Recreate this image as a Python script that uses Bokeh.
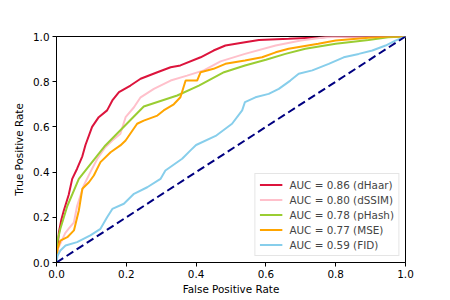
from bokeh.plotting import figure
from bokeh.models import Range1d, FixedTicker, Legend, LegendItem
from bokeh.embed import file_html
from bokeh.resources import INLINE

# ---- data ----
dhaar_fpr = [0, 0.003, 0.007, 0.014, 0.021, 0.035, 0.045, 0.059, 0.074, 0.083, 0.102, 0.121, 0.145, 0.16, 0.179, 0.212, 0.241, 0.289, 0.327, 0.355, 0.413, 0.45, 0.484, 0.54, 0.58, 0.665, 0.75, 0.80, 1.0]
dhaar_tpr = [0, 0.07, 0.134, 0.19, 0.23, 0.30, 0.37, 0.415, 0.47, 0.52, 0.60, 0.643, 0.673, 0.717, 0.754, 0.783, 0.813, 0.842, 0.864, 0.872, 0.908, 0.938, 0.96, 0.975, 0.985, 0.99, 0.996, 1.0, 1.0]

dssim_fpr = [0, 0.004, 0.016, 0.025, 0.035, 0.05, 0.059, 0.078, 0.097, 0.117, 0.14, 0.16, 0.183, 0.198, 0.222, 0.241, 0.279, 0.327, 0.374, 0.422, 0.47, 0.54, 0.628, 0.70, 0.77, 0.85, 1.0]
dssim_tpr = [0, 0.06, 0.10, 0.13, 0.15, 0.178, 0.25, 0.34, 0.40, 0.459, 0.51, 0.54, 0.57, 0.643, 0.687, 0.731, 0.768, 0.805, 0.827, 0.85, 0.89, 0.923, 0.96, 0.982, 0.997, 1.0, 1.0]

phash_fpr = [0, 0.002, 0.011, 0.031, 0.064, 0.14, 0.25, 0.346, 0.408, 0.48, 0.54, 0.60, 0.656, 0.713, 0.80, 0.894, 0.95, 1.0]
phash_tpr = [0, 0.09, 0.149, 0.25, 0.37, 0.518, 0.69, 0.739, 0.783, 0.842, 0.872, 0.897, 0.923, 0.946, 0.968, 0.985, 0.997, 1.0]

mse_fpr = [0, 0.003, 0.011, 0.031, 0.05, 0.064, 0.074, 0.093, 0.107, 0.126, 0.155, 0.183, 0.198, 0.231, 0.25, 0.289, 0.307, 0.336, 0.355, 0.37, 0.403, 0.413, 0.45, 0.484, 0.54, 0.589, 0.628, 0.665, 0.75, 0.80, 0.894, 0.95, 1.0]
mse_tpr = [0, 0.06, 0.097, 0.112, 0.142, 0.23, 0.326, 0.355, 0.385, 0.444, 0.488, 0.518, 0.54, 0.614, 0.628, 0.65, 0.673, 0.70, 0.731, 0.805, 0.805, 0.842, 0.857, 0.879, 0.894, 0.908, 0.93, 0.946, 0.968, 0.982, 0.994, 1.0, 1.0]

fid_fpr = [0, 0.003, 0.011, 0.026, 0.059, 0.097, 0.126, 0.145, 0.16, 0.193, 0.222, 0.26, 0.298, 0.312, 0.36, 0.384, 0.40, 0.456, 0.503, 0.532, 0.54, 0.57, 0.608, 0.637, 0.67, 0.694, 0.733, 0.78, 0.823, 0.866, 0.905, 0.943, 0.971, 1.0]
fid_tpr = [0, 0.03, 0.053, 0.075, 0.09, 0.12, 0.149, 0.20, 0.237, 0.26, 0.304, 0.333, 0.37, 0.407, 0.459, 0.496, 0.52, 0.56, 0.614, 0.673, 0.71, 0.731, 0.746, 0.768, 0.805, 0.835, 0.85, 0.879, 0.908, 0.923, 0.938, 0.96, 0.982, 1.0]

diag = [0, 1]

labels = ["AUC = 0.86 (dHaar)", "AUC = 0.80 (dSSIM)", "AUC = 0.78 (pHash)",
          "AUC = 0.77 (MSE)", "AUC = 0.59 (FID)"]
colors = ["crimson", "pink", "yellowgreen", "orange", "skyblue"]
ticks = [0.0, 0.2, 0.4, 0.6, 0.8, 1.0]
tick_labels = ["0.0", "0.2", "0.4", "0.6", "0.8", "1.0"]

FONT = "DejaVu Sans"
FS = "10.4px"

p = figure(width=450, height=300, output_backend="svg", toolbar_location=None,
           x_range=Range1d(0, 1), y_range=Range1d(0, 1),
           min_border_left=56, min_border_right=45, min_border_top=36,
           min_border_bottom=38)
p.grid.visible = False
p.outline_line_color = "black"
p.outline_line_width = 1
p.background_fill_color = "white"
p.border_fill_color = "white"

series = [(dhaar_fpr, dhaar_tpr), (dssim_fpr, dssim_tpr), (phash_fpr, phash_tpr),
          (mse_fpr, mse_tpr), (fid_fpr, fid_tpr)]
items = []
for (xs, ys), c, lab in zip(series, colors, labels):
    r = p.line(xs, ys, line_color=c, line_width=2)
    items.append(LegendItem(label=lab, renderers=[r]))

p.line(diag, diag, line_color="navy", line_width=2, line_dash="8 4")

for ax in (p.xaxis[0], p.yaxis[0]):
    ax.ticker = FixedTicker(ticks=ticks)
    ax.major_label_overrides = {t: s for t, s in zip(ticks, tick_labels)}
    ax.major_label_text_font = FONT
    ax.major_label_text_font_size = FS
    ax.major_label_text_color = "black"
    ax.axis_label_text_font = FONT
    ax.axis_label_text_font_size = FS
    ax.axis_label_text_font_style = "normal"
    ax.axis_label_text_color = "black"
    ax.axis_line_color = "black"
    ax.major_tick_line_color = "black"
    ax.major_tick_out = 4
    ax.major_tick_in = 0
    ax.minor_tick_line_color = None
    ax.major_label_standoff = 3

p.xaxis.axis_label = "False Positive Rate"
p.yaxis.axis_label = "True Positive Rate"
p.xaxis.axis_label_standoff = 2
p.yaxis.axis_label_standoff = 5

legend = Legend(items=items, location="bottom_right")
legend.margin = 6
legend.padding = 4
legend.spacing = 2
legend.glyph_width = 23
legend.glyph_height = 13
legend.label_height = 13
legend.label_standoff = 7
legend.label_text_font = FONT
legend.label_text_font_size = FS
legend.border_line_color = "#cccccc"
legend.border_line_width = 1
legend.background_fill_alpha = 0.8
p.add_layout(legend, "center")

open("out.html", "w").write(file_html(p, INLINE))
